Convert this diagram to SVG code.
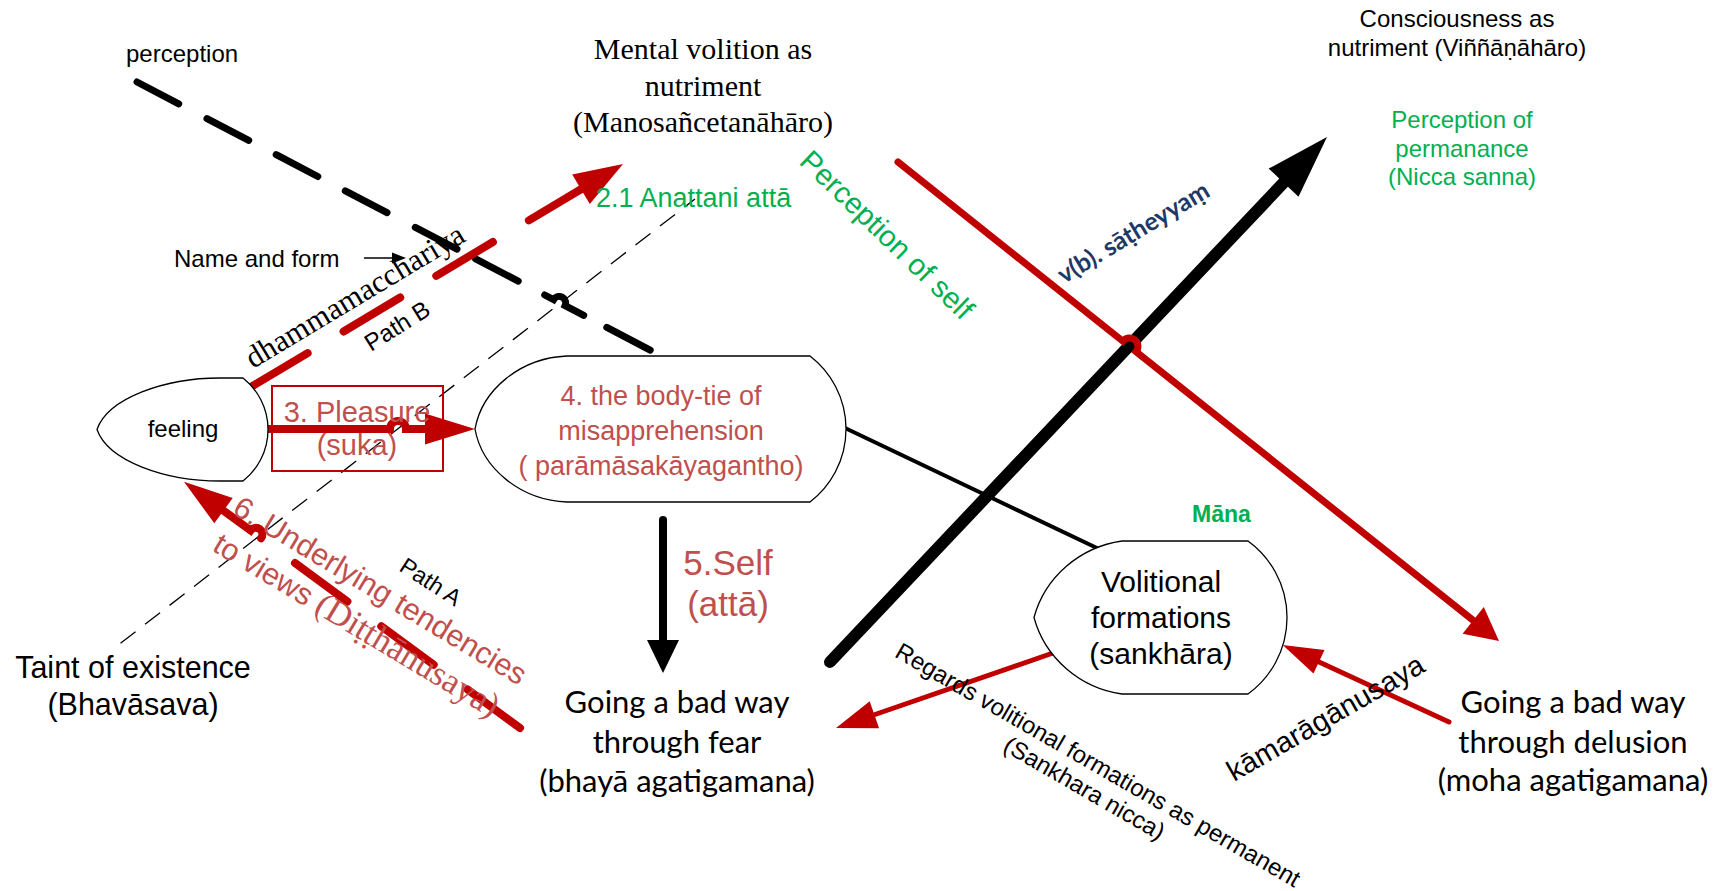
<svg xmlns="http://www.w3.org/2000/svg" width="1716" height="891" viewBox="0 0 1716 891">
  <style>
    .sans{font-family:"Liberation Sans",Arial,sans-serif}
    .serif{font-family:"Liberation Serif","Times New Roman",serif}
    .cal{font-family:Lato,"Liberation Sans",sans-serif}
    .shape{fill:#fff;stroke:#000;stroke-width:1.3}
    .green{fill:#00B050}
    .rtext{fill:#C0504D}
    .navy{fill:#1F3864}
    .rline{stroke:#C00000;fill:none;stroke-linecap:round}
    .bline{stroke:#000;fill:none;stroke-linecap:round}
    .rhead{fill:#C00000}
    .bhead{fill:#000}
    .mid{text-anchor:middle}
  </style>

  <rect width="1716" height="891" fill="#fff"/>

  <!-- connectors -->
  <g id="connectors">
    <!-- thin dashed line up from the taint of existence -->
    <line x1="120.5" y1="643.3" x2="695" y2="199" stroke="#000" stroke-width="1.3" stroke-dasharray="19 12"/>

    <!-- heavy dashed "perception" line with a jump over the thin dashed line -->
    <path class="bline" stroke-width="7" d="M137,82 L178.7,103.8 M207,118.6 L248.7,140.3 M276.2,154.7 L317.8,176.5 M345.3,190.8 L387,212.6 M415.3,227.4 L457,249.1 M475.6,258.9 L518.2,281.1 M544.7,295 L553.6,299.6 A6.5,6.5 0 0 1 565.1,305.6 L583.7,315.4 M606.8,327.4 L650.2,350.1"/>

    <!-- Path B: feeling to mental volition -->
    <path class="rline" stroke-width="8" d="M251,387 L307.6,353.1 M343.6,331.5 L400.2,297.5 M436.3,275.9 L492.9,242 M528.9,220.4 L581,189.2"/>
    <polygon class="rhead" points="623,164 589.8,204 572.2,174.4"/>

    <!-- Path A: back to feeling -->
    <path class="rline" stroke-width="8" d="M520,728 L467.6,689.6 M433.7,664.7 L381.3,626.3 M347.4,601.5 L295,563 M261.1,538.2 A6.5,6.5 0 0 0 250.6,530.5 L223.6,510.7"/>
    <polygon class="rhead" points="184,481.7 232.7,498.1 214.3,523.3"/>

    <!-- 3. Pleasure: feeling to body-tie -->
    <path class="rline" stroke-width="8" d="M265,429 L390,429 A8,8 0 0 1 406,429 L426,429"/>
    <polygon class="rhead" points="475,429 425,413.5 425,444.5"/>

    <!-- 5. Self: body-tie down to fear -->
    <path class="bline" stroke-width="8" d="M663,520 L663,642"/>
    <polygon class="bhead" points="663,673 647,640 679,640"/>

    <!-- body-tie to volitional formations -->
    <path class="bline" stroke-width="4" d="M845,428 L1099,549"/>

    <!-- v(b) heavy arrow -->
    <path class="bline" stroke-width="12" d="M830,662 L1288,178"/>
    <polygon class="bhead" points="1327,137 1298.5,196.8 1268.7,168.6"/>

    <!-- long red arrow to delusion, jumping the heavy arrow -->
    <path class="rline" stroke-width="7" d="M898,162 L1122.8,341.2 A8.5,8.5 0 0 1 1136.1,351.8 L1474,621"/>
    <polygon class="rhead" points="1499,641 1462.6,633.7 1483.8,607.1"/>

    <!-- volitional formations to fear -->
    <path class="rline" stroke-width="5" d="M1053,653 L875,714.5"/>
    <polygon class="rhead" points="836,728 869.7,701.2 879.1,728.2"/>

    <!-- delusion to volitional formations -->
    <path class="rline" stroke-width="5" d="M1449,722 L1318,661.5"/>
    <polygon class="rhead" points="1282.7,645 1324.5,650 1313.5,673.6"/>

    <!-- name and form pointer -->
    <path stroke="#000" stroke-width="1.5" d="M364,258 L394,258"/>
    <polygon class="bhead" points="406,258 392,252.5 392,263.5"/>
  </g>

  <!-- nodes -->
  <g id="feeling">
    <path class="shape" d="M220,378 L243,378 A65.5,65.5 0 0 1 243,481 L220,481 C165,481 108,461 97,429.5 C108,398 165,378 220,378 Z"/>
    <text class="sans mid" x="183" y="437" font-size="24">feeling</text>
  </g>

  <g id="pleasure">
    <rect x="272" y="386" width="171" height="85" fill="none" stroke="#C00000" stroke-width="2"/>
    <text class="sans rtext mid" font-size="29"><tspan x="357" y="421.5">3. Pleasure</tspan><tspan x="357" y="455">(suka)</tspan></text>
  </g>

  <g id="body-tie">
    <path class="shape" d="M567,356 L810,356 A92,92 0 0 1 810,502 L567,502 C520,500 482,468 475,429 C482,390 520,358 567,356 Z"/>
    <text class="sans rtext mid" font-size="27"><tspan x="661" y="405">4. the body-tie of</tspan><tspan x="661" y="440">misapprehension</tspan><tspan x="661" y="475">( parāmāsakāyagantho)</tspan></text>
  </g>

  <g id="volitional">
    <path class="shape" d="M1122,541 L1248,541 A94.5,94.5 0 0 1 1248,694 L1122,694 C1080,688 1045,658 1034,617.5 C1045,577 1080,547 1122,541 Z"/>
    <text class="sans mid" font-size="30"><tspan x="1161" y="592">Volitional</tspan><tspan x="1161" y="628">formations</tspan><tspan x="1161" y="664">(sankhāra)</tspan></text>
  </g>

  <g id="mental-volition">
    <text class="serif mid" font-size="30"><tspan x="703" y="59">Mental volition as</tspan><tspan x="703" y="96">nutriment</tspan><tspan x="703" y="132">(Manosañcetanāhāro)</tspan></text>
  </g>

  <g id="consciousness">
    <text class="sans mid" font-size="24"><tspan x="1457" y="27">Consciousness as</tspan><tspan x="1457" y="56">nutriment (Viññāṇāhāro)</tspan></text>
  </g>

  <g id="fear">
    <text class="cal mid" font-size="31"><tspan x="677" y="713">Going a bad way</tspan><tspan x="677" y="753">through fear</tspan><tspan x="677" y="792">(bhayā agatigamana)</tspan></text>
  </g>

  <g id="delusion">
    <text class="cal mid" font-size="31"><tspan x="1573" y="713">Going a bad way</tspan><tspan x="1573" y="753">through delusion</tspan><tspan x="1573" y="791">(moha agatigamana)</tspan></text>
  </g>

  <g id="taint">
    <text class="sans mid" font-size="30.5"><tspan x="133" y="678">Taint of existence</tspan><tspan x="133" y="715">(Bhavāsava)</tspan></text>
  </g>

  <!-- labels -->
  <g id="labels">
    <text class="sans" x="126" y="62" font-size="24">perception</text>
    <text class="sans" x="174" y="267" font-size="24">Name and form</text>
    <text class="sans green" x="596" y="207" font-size="27">2.1 Anattani attā</text>
    <text class="sans green" font-size="29.5" transform="translate(798,163) rotate(44)">Perception of self</text>
    <text class="sans green mid" font-size="24"><tspan x="1462" y="128">Perception of</tspan><tspan x="1462" y="157">permanance</tspan><tspan x="1462" y="185">(Nicca sanna)</tspan></text>
    <text class="cal navy" font-size="25" font-weight="bold" transform="translate(1064,284) rotate(-31)">v(b). sāṭheyyaṃ</text>
    <text class="serif" font-size="31" transform="translate(253,369) rotate(-31)">dhammamacchariya</text>
    <text class="sans" font-size="24" transform="translate(371,352) rotate(-32)">Path B</text>
    <text class="sans rtext mid" font-size="35"><tspan x="728" y="575">5.Self</tspan><tspan x="728" y="616">(attā)</tspan></text>
    <g transform="translate(231,513) rotate(31)">
      <text class="sans rtext" font-size="30.5">6. Underlying tendencies</text>
      <text class="sans rtext" x="2" y="42" font-size="30.5">to views <tspan class="serif" font-size="35">(Diṭṭhānusaya)</tspan></text>
    </g>
    <text class="sans" font-size="23" transform="translate(398,570) rotate(33)">Path A</text>
    <text class="sans green" x="1192" y="522" font-size="23" font-weight="bold">Māna</text>
    <g transform="translate(893,656) rotate(30)">
      <text class="sans mid" font-size="24"><tspan x="232" y="0">Regards volitional formations as permanent</tspan><tspan x="232" y="27">(Sankhara nicca)</tspan></text>
    </g>
    <text class="sans" font-size="29" transform="translate(1234,782) rotate(-30)">kāmarāgānusaya</text>
  </g>
</svg>
